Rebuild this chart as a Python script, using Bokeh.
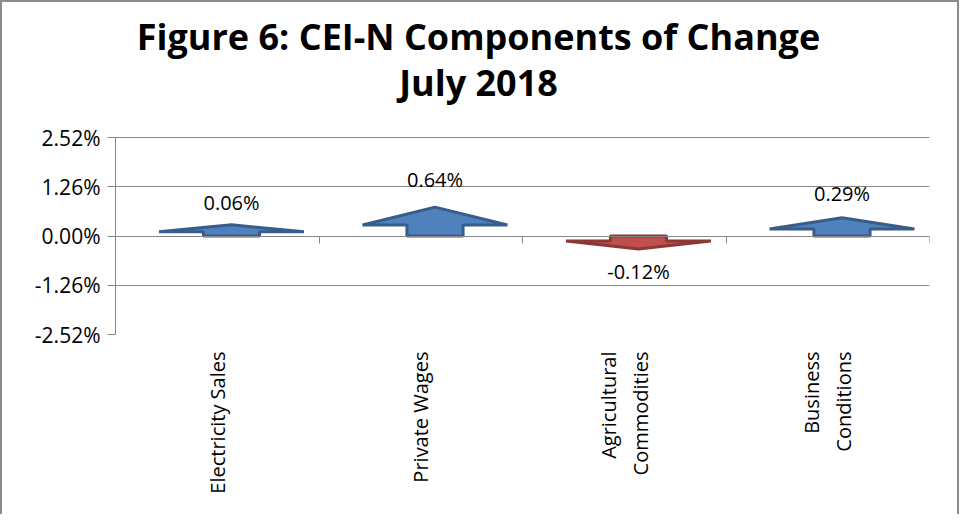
import math
from bokeh.plotting import figure
from bokeh.models import (ColumnDataSource, LinearAxis, FixedTicker,
                          PrintfTickFormatter, Range1d, Label)
from bokeh.core.properties import value
from bokeh.embed import file_html
from bokeh.resources import INLINE

# ---- data ----
categories = ["Electricity Sales", "Private Wages", "Agricultural\nCommodities", "Business\nConditions"]
changes = [0.06, 0.64, -0.12, 0.29]
y_ticks = [-2.52, -1.26, 0.0, 1.26, 2.52]
title_lines = ["Figure 6: CEI-N Components of Change", "July 2018"]

# ---- style / layout ----
UP_FILL, UP_LINE = "#4f81bd", "#385d8a"
DOWN_FILL, DOWN_LINE = "#c0504d", "#8c3836"
GRID = "#868686"
FONT = "Open Sans"
STEM_HALF = 0.138
WING_HALF = 0.356
SHIFT = 0.07
W, H = 959, 514
MB_LEFT, MB_RIGHT, MB_TOP, MB_BOTTOM = 115, 30, 0, 180
PLOT_PX = 197                      # pixel height of the value band
FRAME_PX = H - MB_TOP - MB_BOTTOM  # frame extended upward to host the title
y_lo, y_hi = y_ticks[0], y_ticks[-1]
y_top = y_lo + FRAME_PX / PLOT_PX * (y_hi - y_lo)

xs, ys, fills, lines = [], [], [], []
lx, ly, ltxt, loff = [], [], [], []
for i, v in enumerate(changes):
    c = i + 0.5 + SHIFT
    s = 1 if v >= 0 else -1
    apex = s * (0.24 + 0.78 * abs(v))
    wing = 0.38 * apex
    xs.append([c - STEM_HALF, c - STEM_HALF, c - WING_HALF, c, c + WING_HALF, c + STEM_HALF, c + STEM_HALF])
    ys.append([0, wing, wing, apex, wing, wing, 0])
    fills.append(UP_FILL if v >= 0 else DOWN_FILL)
    lines.append(UP_LINE if v >= 0 else DOWN_LINE)
    lx.append(c)
    ly.append(v)
    ltxt.append(f"{v:.2f}%")
    loff.append(-31 * s)

arrows = ColumnDataSource(dict(xs=xs, ys=ys, fill=fills, line=lines))
labels = ColumnDataSource(dict(x=lx, y=ly, text=ltxt, off=loff))

p = figure(width=W, height=H, title=None,
           x_range=Range1d(0, len(categories)), y_range=Range1d(y_lo, y_top),
           output_backend="svg", toolbar_location=None,
           x_axis_location=None, y_axis_location="left",
           min_border_left=MB_LEFT, min_border_right=MB_RIGHT,
           min_border_top=MB_TOP, min_border_bottom=MB_BOTTOM)
p.outline_line_color = None
p.border_fill_color = None
p.background_fill_color = None
p.styles = {"box-shadow": "inset 2px 2px 0 #8c8c8c, inset -2px 0 0 #8c8c8c"}

# title: two centred lines; screen units are measured from the frame's bottom-left
for line_text, baseline_from_top in ((title_lines[0], 36), (title_lines[1], 82)):
    p.add_layout(Label(x=478 - MB_LEFT, y=FRAME_PX - baseline_from_top,
                       x_units="screen", y_units="screen",
                       text=line_text, text_align="center", text_baseline="alphabetic",
                       text_font=FONT, text_font_size="36px", text_font_style="bold",
                       text_color="#000000"))

# grid
p.xgrid.visible = False
p.ygrid.ticker = FixedTicker(ticks=y_ticks)
p.ygrid.grid_line_color = GRID

# y axis
ya = p.yaxis[0]
ya.ticker = FixedTicker(ticks=y_ticks)
ya.bounds = (y_lo, y_hi)
ya.formatter = PrintfTickFormatter(format="%.2f%%")
ya.major_tick_in = 0
ya.major_tick_out = 8
ya.minor_tick_line_color = None
ya.axis_line_color = GRID
ya.major_tick_line_color = GRID
ya.major_label_text_font = FONT
ya.major_label_text_font_size = "21px"
ya.major_label_text_color = "#000000"
ya.major_label_standoff = 7

# x category labels (below the frame)
xl = LinearAxis(ticker=FixedTicker(ticks=[i + 0.5 for i in range(len(categories))]),
                major_label_overrides={i + 0.5: c for i, c in enumerate(categories)})
xl.axis_line_color = None
xl.major_tick_line_color = None
xl.minor_tick_line_color = None
xl.major_label_orientation = math.pi / 2
xl.major_label_text_font = FONT
xl.major_label_text_font_size = "20px"
xl.major_label_text_color = "#000000"
xl.major_label_standoff = 11
p.add_layout(xl, "below")

# category axis line at zero with tick marks between categories
bounds = list(range(len(categories) + 1))
xz = LinearAxis(ticker=FixedTicker(ticks=bounds), fixed_location=0,
                major_label_overrides={b: "" for b in bounds})
xz.axis_line_color = GRID
xz.major_tick_line_color = GRID
xz.minor_tick_line_color = None
xz.major_tick_in = 0
xz.major_tick_out = 7
p.add_layout(xz, "below")

p.patches("xs", "ys", source=arrows, fill_color="fill", line_color="line", line_width=3)
p.text("x", "y", text="text", source=labels, y_offset="off",
       text_align="center", text_baseline="middle",
       text_font=value(FONT), text_font_size="20px", text_color="#000000")

open("out.html", "w").write(file_html(p, INLINE))
